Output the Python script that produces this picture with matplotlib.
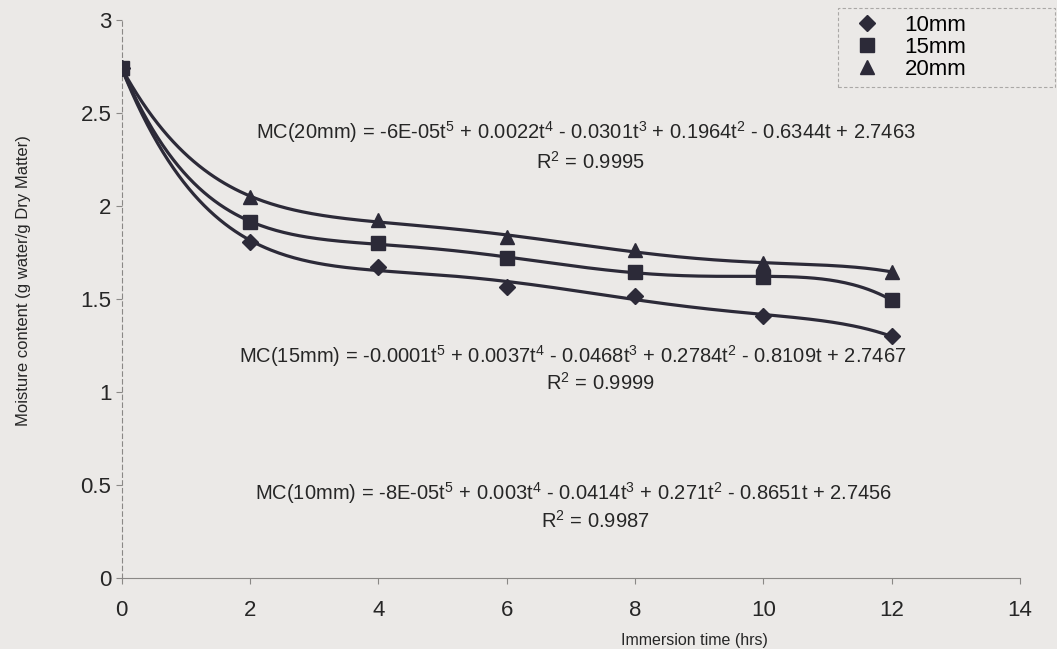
import numpy as np
import matplotlib
matplotlib.use("Agg")
import matplotlib.pyplot as plt
from matplotlib.lines import Line2D

plt.rcParams['font.family'] = ['Liberation Sans', 'DejaVu Sans']
plt.rcParams['mathtext.default'] = 'regular'

#%% Data
t = [0, 2, 4, 6, 8, 10, 12]   # immersion time [hrs]
mc10 = [2.74, 1.806, 1.672, 1.565, 1.516, 1.407, 1.299]
mc15 = [2.74, 1.914, 1.798, 1.717, 1.645, 1.618, 1.493]
mc20 = [2.74, 2.048, 1.922, 1.830, 1.761, 1.690, 1.645]

series = ['10mm', '15mm', '20mm']
markers = ['D', 's', '^']
msizes = [8.5, 10, 10]

eq10 = "MC(10mm) = -8E-05t$^5$ + 0.003t$^4$ - 0.0414t$^3$ + 0.271t$^2$ - 0.8651t + 2.7456"
eq15 = "MC(15mm) = -0.0001t$^5$ + 0.0037t$^4$ - 0.0468t$^3$ + 0.2784t$^2$ - 0.8109t + 2.7467"
eq20 = "MC(20mm) = -6E-05t$^5$ + 0.0022t$^4$ - 0.0301t$^3$ + 0.1964t$^2$ - 0.6344t + 2.7463"
r2 = ["R$^2$ = 0.9987", "R$^2$ = 0.9999", "R$^2$ = 0.9995"]

xticks = [0, 2, 4, 6, 8, 10, 12, 14]
yticks = [0, 0.5, 1, 1.5, 2, 2.5, 3]
yticklabels = ['0', '0.5', '1', '1.5', '2', '2.5', '3']

#%% Plot
W, H = 1057, 649
ink = '#2c2a38'
paper = '#ebe9e7'
txt = '#262626'

fig = plt.figure(figsize=(W/100, H/100), dpi=100)
fig.set_facecolor(paper)
ax = fig.add_axes([121.7/W, 1-577.7/H, (1019.8-121.7)/W, (577.7-19.7)/H])
ax.set_facecolor('none')

# polynomial (order 5) trendlines like the spreadsheet did
tt = np.linspace(0, 12, 300)
zo = [3, 5, 4]   # squares end up on top where markers overlap
for y, mk, ms, z in zip([mc10, mc15, mc20], markers, msizes, zo):
    coef = np.polyfit(t, y, 5)
    ax.plot(tt, np.polyval(coef, tt), color=ink, lw=2.3, zorder=2)
    ax.plot(t, y, linestyle='', marker=mk, ms=ms, color=ink, zorder=z)

ax.set_xlim(0, 14)
ax.set_ylim(0, 3)
ax.set_xticks(xticks)
ax.set_yticks(yticks)
ax.set_yticklabels(yticklabels)
ax.tick_params(labelsize=16, colors='#8a8886', labelcolor=txt, length=4, width=0.8)
ax.tick_params(axis='x', pad=12)
for s in ['top', 'right']:
    ax.spines[s].set_visible(False)
ax.spines['left'].set_color('#8a8886')
ax.spines['left'].set_linestyle((0, (4, 3)))
ax.spines['left'].set_linewidth(0.8)
ax.spines['bottom'].set_color('#8a8886')
ax.spines['bottom'].set_linewidth(0.8)

# axis titles
fig.text(694/W, 1-641/H, 'Immersion time (hrs)', fontsize=11.5, color=txt,
         ha='center', va='center')
fig.text(24/W, 1-281/H, 'Moisture content (g water/g Dry Matter)', fontsize=12,
         color=txt, rotation=90, ha='center', va='center')

# trendline equations
fs = 14.5
fig.text(586/W, 1-132/H, eq20, fontsize=fs, color=txt, ha='center', va='center')
fig.text(590/W, 1-162/H, r2[2], fontsize=fs, color=txt, ha='center', va='center')
fig.text(573/W, 1-356/H, eq15, fontsize=fs, color=txt, ha='center', va='center')
fig.text(600/W, 1-383/H, r2[1], fontsize=fs, color=txt, ha='center', va='center')
fig.text(574/W, 1-493/H, eq10, fontsize=fs, color=txt, ha='center', va='center')
fig.text(595/W, 1-521/H, r2[0], fontsize=fs, color=txt, ha='center', va='center')

# legend
handles = [Line2D([], [], linestyle='', marker=mk, ms=ms*0.95, color=ink)
           for mk, ms in zip(markers, msizes)]
leg = fig.legend(handles, series, loc='upper left',
                 bbox_to_anchor=(838/W, 1-86/H, (1055-838)/W, 78/H), mode='expand',
                 fontsize=16, labelspacing=0.05, handlelength=2.0, handletextpad=0.7,
                 borderpad=0.3, borderaxespad=0, fancybox=False, frameon=True)
leg.get_frame().set_facecolor('none')
leg.get_frame().set_edgecolor('#9a9896')
leg.get_frame().set_linestyle((0, (3, 2)))
leg.get_frame().set_linewidth(0.8)

fig.savefig('out.png', dpi=100, facecolor=paper)
